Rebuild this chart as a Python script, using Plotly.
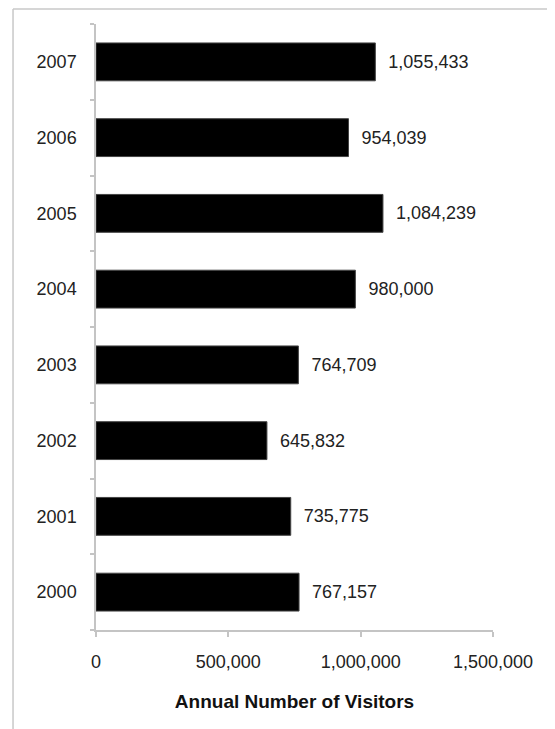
import plotly.graph_objects as go

years = ["2000", "2001", "2002", "2003", "2004", "2005", "2006", "2007"]
visitors = [767157, 735775, 645832, 764709, 980000, 1084239, 954039, 1055433]
labels = ["767,157", "735,775", "645,832", "764,709", "980,000", "1,084,239", "954,039", "1,055,433"]
x_ticks = [0, 500000, 1000000, 1500000]
x_tick_labels = ["0", "500,000", "1,000,000", "1,500,000"]

FONT = "Liberation Sans, Arial, Helvetica"

fig = go.Figure(go.Bar(
    y=years, x=visitors, orientation="h",
    text=labels, texttemplate="\u00a0\u00a0%{text}", textposition="outside",
    textfont=dict(family=FONT, size=18, color="#222"),
    marker=dict(color="black", line=dict(color="#444", width=1)),
    width=0.5, cliponaxis=False,
))

border = dict(color="#c8c8c8", width=1.5)
fig.update_layout(
    width=547, height=721,
    margin=dict(l=88, r=62, t=16, b=99),
    plot_bgcolor="white", paper_bgcolor="white",
    showlegend=False,
    font=dict(family=FONT, size=18, color="#222"),
    xaxis=dict(
        range=[0, 1500000], tickvals=x_ticks, ticktext=x_tick_labels,
        showgrid=False, zeroline=False,
        showline=True, linecolor="#c4c4c4", linewidth=1.5,
        ticks="outside", ticklen=5, tickcolor="#c4c4c4", tickwidth=1.5,
        tickfont=dict(size=18, color="#222"),
        ticklabelstandoff=10,
        title=dict(text="<b>Annual Number of Visitors</b>", font=dict(size=19, color="#111"), standoff=23),
    ),
    yaxis=dict(
        type="category", categoryorder="array", categoryarray=years,
        range=[-0.5, 7.5],
        showgrid=False, zeroline=False,
        showline=True, linecolor="#c4c4c4", linewidth=1.5,
        ticks="outside", tickson="boundaries", ticklen=4, tickcolor="#c4c4c4", tickwidth=1.5,
        tickfont=dict(size=18, color="#222"),
        ticklabelstandoff=14,
    ),
    shapes=[
        dict(type="line", xref="paper", yref="paper",
             x0=-0.209, x1=1.2, y0=1.0248, y1=1.0248, line=border, layer="above"),
        dict(type="line", xref="paper", yref="paper",
             x0=-0.209, x1=-0.209, y0=-0.2, y1=1.0248, line=border, layer="above"),
    ],
)

fig.write_html("out.html", config={"displayModeBar": False})
